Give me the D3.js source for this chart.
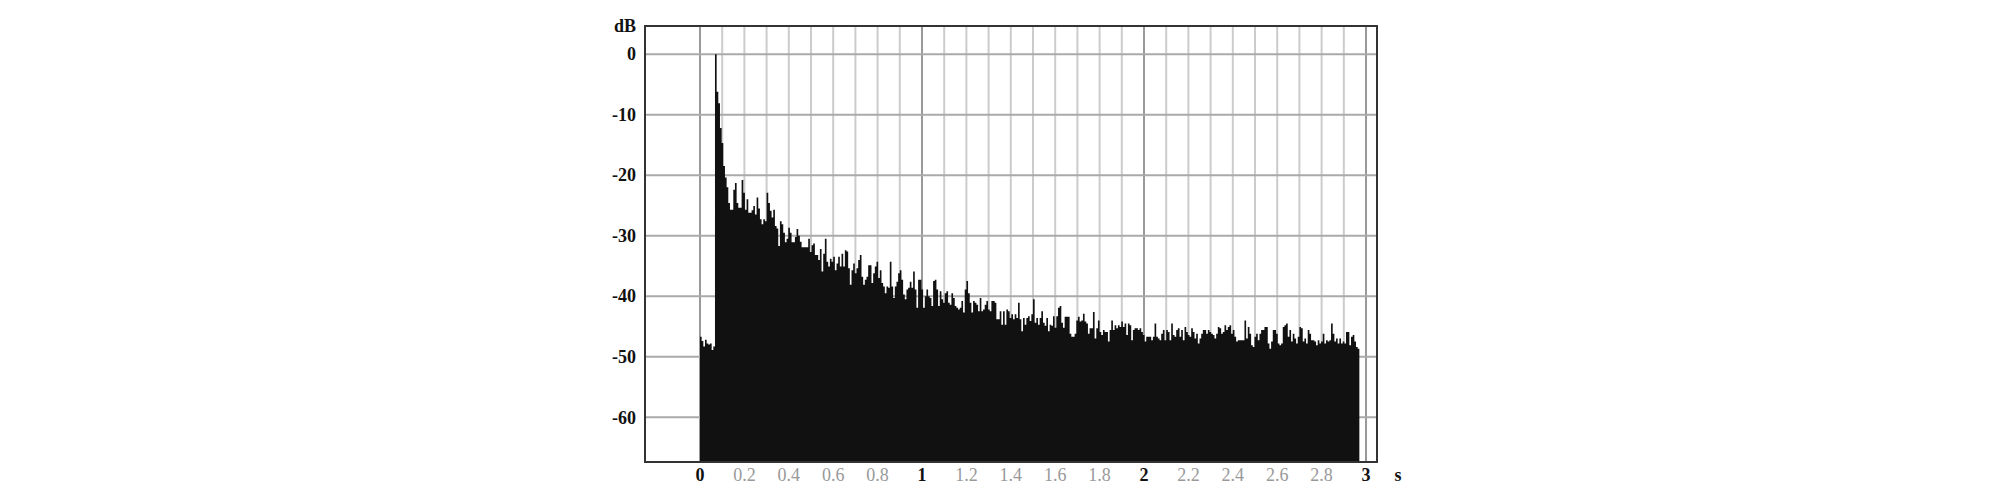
<!DOCTYPE html>
<html>
<head>
<meta charset="utf-8">
<script src="https://cdn.jsdelivr.net/npm/d3@7"></script>
<style>
  html, body { margin: 0; padding: 0; background: #fff; }
  svg { display: block; }
  text { font-family: "Liberation Serif", "Times New Roman", serif; }
</style>
</head>
<body>
<svg id="chart" width="2008" height="497"></svg>
<script>
// level per time slot, dB (slot width = step seconds, starting at 0 s)
var step = 0.0075;

var preOnset = [-46.7, -47.4, -48.3, -47.2, -47.8, -48.0, -47.8, -48.9, -48.3];

var earlyDecay = [
  0, -6.2, -8.1, -12.2, -14.7, -18.5, -20.4, -22, -24.6, -25.7,
  -25.7, -22.4, -21.3, -24.6, -25.4, -25.4, -20.8, -22.9, -25.7, -24,
  -26.2, -26.2, -25.8, -25.1, -26.5, -23.7, -25.5, -27.3, -28.1, -27.3,
  -27.6, -22.9, -24.6, -25.9, -27, -25.7, -28.4, -28.8, -31.7, -27.6,
  -28.1, -29.5, -31.1, -30.5, -28.7, -29.5, -31.1, -31.1
];

var midDecay = [
  -30.2, -28.9, -30, -31, -31.9, -31.9, -31.9, -31.9, -30.5, -32.7,
  -31.6, -31.3, -33.2, -33.2, -34, -32.2, -35.9, -33, -30.5, -34.3,
  -35.1, -33.8, -34.3, -33.5, -35.7, -34.6, -33.5, -35.1, -33, -35.1,
  -32.4, -32.6, -35.4, -38.1, -35.7, -34.6, -36.2, -35.4, -34, -33.2,
  -36.8, -38.1, -37.3, -36.8, -34.9, -34.9, -37.8, -36.2, -35.1, -34.3,
  -37, -35.7, -37.8, -38.4, -39.5, -38.4, -38.6, -34.3, -38.4, -40.3,
  -38.4, -37.6, -36.2, -35.7, -37.3, -39.7, -40.5, -38.9, -38.6, -37.6,
  -38.6, -35.9, -38.9, -41.9, -37.3, -37.3, -38.9, -41.9
];

var lateDecay = [
  -40, -38.9, -40, -40.3, -41.6, -37.5, -37.3, -38.9, -41.6, -39.2,
  -40.5, -41.1, -39.5, -39.2, -41.1, -41.4, -39.5, -40.3, -41.6, -41.9,
  -42.2, -41.9, -40.8, -42.7, -38.9, -37.5, -39.5, -41.1, -42.7, -40.8,
  -41.1, -41.4, -42.5, -40.3, -42.5, -42.2, -41.4, -40.8, -42.2, -42.5,
  -40.8, -40.8, -41.1, -43.8, -43.8, -42.5, -44.7, -42.5, -44.7, -42.2,
  -42.5, -43.6, -43, -43.8, -43, -43.6, -41.1, -43.8, -45.8, -43.6,
  -44.7, -43.6, -43.3, -44.1, -43, -40.5, -44.4, -43.6, -44.7, -43.6,
  -42.5, -44.4, -44.9, -43.6, -45.8, -44.7, -44.9, -43.3, -45.2, -43.3,
  -41.9, -41.6, -44.4, -45.2
];

var tail1 = [
  -43.4, -43.4, -43.4, -46.2, -46.7, -46.7, -46.2, -44, -43.4, -44.2,
  -44, -42.9, -44.2, -44.5, -46.2, -45.3, -45.3, -42.6, -47, -45.3,
  -44, -45.9, -46.4, -45.6, -45.9, -45.9, -47.5, -45.6, -44, -45.6,
  -44.8, -45.3, -44.8, -45.1, -44.2, -45.1, -44.5, -46.4, -44.5, -44.8,
  -47.3, -45.6, -45.3, -45.3, -45.6, -45.3, -45.9, -46.4, -47.5, -46.7,
  -46.7, -46.7, -47.3, -46.7, -44.5, -46.7, -47, -47.3, -46.2, -45.6,
  -47.3, -45.6, -45.9, -47.3, -44.5, -46.4, -46.7, -45.6, -45.3, -46.7,
  -45.6, -47.3, -45.1, -45.9, -46.4, -46.7, -45.3, -45.9, -47, -46.2,
  -47.8, -47, -46.2, -45.6
];

var tail2 = [
  -45.6, -46.2, -45.6, -45.9, -46.2, -46.4, -47, -46.2, -45.1, -45.3,
  -46.2, -45.9, -44.8, -45.6, -45.1, -44.8, -46.2, -45.6, -46.7, -47.5,
  -47.3, -47.3, -47.3, -47.3, -44, -47, -45.1, -46.2, -48.1, -48.4,
  -46.7, -46.2, -47.3, -46.2, -45.6, -45.6, -45.1, -45.1, -47.8, -48.7,
  -47.5, -45.6, -45.6, -46.2, -47.8, -48.1, -47.8, -45.1, -44.8, -44.5,
  -46.7, -45.6, -47.5, -46.2, -47, -47.8, -46.7, -45.1, -45.3, -47.5,
  -47, -47.8, -45.6, -46.2, -47.3, -47.3, -47.5, -48.1, -47.3, -47.8,
  -47.5, -46.2, -47.8, -47.3, -47.5, -47.3, -44.5, -46.2, -47.5, -47,
  -47.8, -47, -47.8, -47.5, -47.8, -45.9, -45.9, -48.1, -46.7, -46.4,
  -47.5, -48.4, -48.7
];

var dbTicks = [0, -10, -20, -30, -40, -50, -60];
var timeGrid = [0, 0.1, 0.2, 0.3, 0.4, 0.5, 0.6, 0.7, 0.8, 0.9, 1, 1.1, 1.2, 1.3, 1.4,
  1.5, 1.6, 1.7, 1.8, 1.9, 2, 2.1, 2.2, 2.3, 2.4, 2.5, 2.6, 2.7, 2.8, 2.9, 3];
var timeLabels = [0, 0.2, 0.4, 0.6, 0.8, 1, 1.2, 1.4, 1.6, 1.8, 2, 2.2, 2.4, 2.6, 2.8, 3];

var levels = preOnset.concat(earlyDecay, midDecay, lateDecay, tail1, tail2);

var plotLeft = 645, plotRight = 1377, plotTop = 26, plotBottom = 462;

var x = d3.scaleLinear().domain([-0.2477, 3.0495]).range([plotLeft, plotRight]);
var y = d3.scaleLinear().domain([4.65, -67.4]).range([plotTop, plotBottom]);

var svg = d3.select('#chart');

function isWhole(t) { return Math.abs(t - Math.round(t)) < 1e-6; }

// grid
svg.append('g').selectAll('line').data(timeGrid).enter().append('line')
  .attr('x1', function(d) { return x(d); })
  .attr('x2', function(d) { return x(d); })
  .attr('y1', plotTop).attr('y2', plotBottom)
  .attr('stroke', function(d) { return isWhole(d) ? '#999' : '#ccc'; })
  .attr('stroke-width', 2);

svg.append('g').selectAll('line').data(dbTicks).enter().append('line')
  .attr('x1', plotLeft).attr('x2', plotRight)
  .attr('y1', function(d) { return y(d); })
  .attr('y2', function(d) { return y(d); })
  .attr('stroke', '#aaa')
  .attr('stroke-width', 2);

// decay data
var pts = levels.map(function(v, i) { return { t: i * step, v: v }; });
pts.push({ t: levels.length * step, v: levels[levels.length - 1] });

var area = d3.area()
  .x(function(d) { return x(d.t); })
  .y0(plotBottom)
  .y1(function(d) { return y(d.v); })
  .curve(d3.curveStepAfter);

svg.append('path')
  .datum(pts)
  .attr('d', area)
  .attr('fill', '#111');

// frame
svg.append('rect')
  .attr('x', plotLeft).attr('y', plotTop)
  .attr('width', plotRight - plotLeft).attr('height', plotBottom - plotTop)
  .attr('fill', 'none')
  .attr('stroke', '#333')
  .attr('stroke-width', 2);

// y labels
svg.append('g').selectAll('text').data(dbTicks).enter().append('text')
  .attr('x', 636)
  .attr('y', function(d) { return y(d); })
  .attr('dy', '0.35em')
  .attr('text-anchor', 'end')
  .attr('font-size', 18)
  .attr('font-weight', 'bold')
  .attr('fill', '#111')
  .text(function(d) { return d; });

svg.append('text')
  .attr('x', 636).attr('y', 32)
  .attr('text-anchor', 'end')
  .attr('font-size', 18)
  .attr('font-weight', 'bold')
  .attr('fill', '#111')
  .text('dB');

// x labels
svg.append('g').selectAll('text').data(timeLabels).enter().append('text')
  .attr('x', function(d) { return x(d); })
  .attr('y', 481)
  .attr('text-anchor', 'middle')
  .attr('font-size', 18)
  .attr('font-weight', function(d) { return isWhole(d) ? 'bold' : 'normal'; })
  .attr('fill', function(d) { return isWhole(d) ? '#111' : '#999'; })
  .text(function(d) { return d; });

svg.append('text')
  .attr('x', 1398).attr('y', 481)
  .attr('text-anchor', 'middle')
  .attr('font-size', 18)
  .attr('font-weight', 'bold')
  .attr('fill', '#111')
  .text('s');
</script>
</body>
</html>
